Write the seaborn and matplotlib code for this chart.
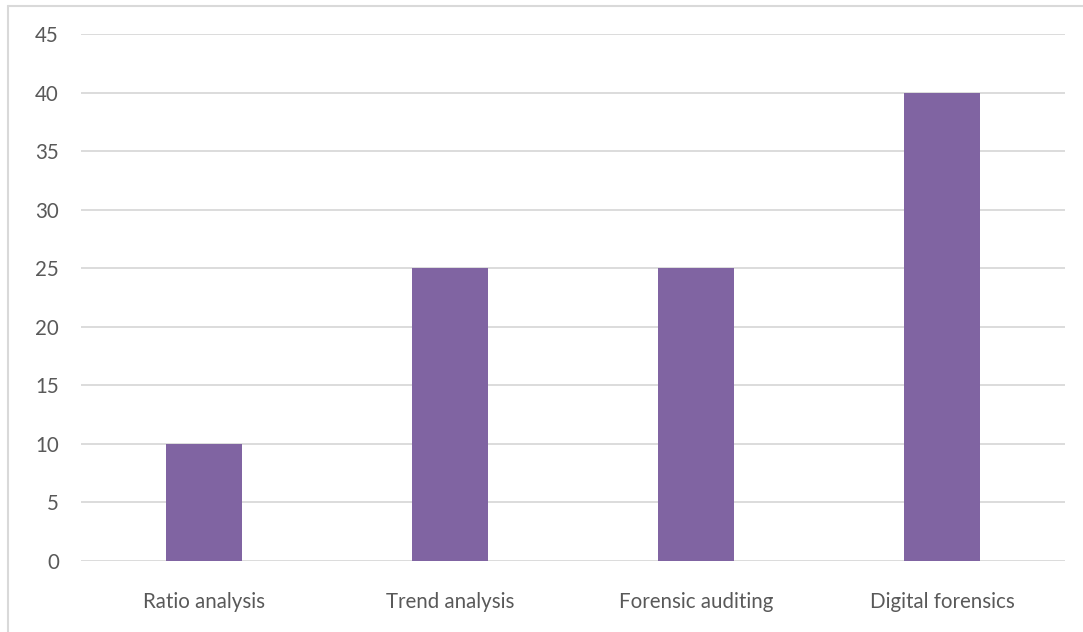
import matplotlib
matplotlib.use("Agg")
import matplotlib.pyplot as plt
import seaborn as sns
import pandas as pd
from matplotlib.lines import Line2D

categories = ["Ratio analysis", "Trend analysis", "Forensic auditing", "Digital forensics"]
values = [10, 25, 25, 40]
y_ticks = [0, 5, 10, 15, 20, 25, 30, 35, 40, 45]

df = pd.DataFrame({"category": categories, "value": values})

sns.set_style("white")
plt.rcParams["font.family"] = ["Lato", "DejaVu Sans"]

fig = plt.figure(figsize=(10.83, 6.32), dpi=100)
ax = fig.add_axes([81 / 1083, 1 - 561 / 632, (1065 - 81) / 1083, (561 - 34) / 632])

sns.barplot(data=df, x="category", y="value", color="#8064A2", saturation=1,
            width=0.313, linewidth=0, ax=ax, zorder=3)

ax.set_ylim(0, 45)
ax.set_yticks(y_ticks)
ax.set_xlim(-0.5, len(categories) - 0.5)
ax.yaxis.grid(True, color="#D9D9D9", linewidth=1.3, zorder=0)
ax.set_axisbelow(True)
for s in ax.spines.values():
    s.set_visible(False)
ax.tick_params(axis="both", length=0, labelsize=14.8, colors="#595959")
ax.tick_params(axis="x", pad=22)
ax.tick_params(axis="y", pad=16)
ax.set_xlabel("")
ax.set_ylabel("")

# chart frame (left and top edges visible in the crop)
fig.add_artist(Line2D([8 / 1083, 8 / 1083], [0, 1 - 6 / 632], transform=fig.transFigure,
                      color="#D9D9D9", linewidth=1.5))
fig.add_artist(Line2D([8 / 1083, 1], [1 - 6 / 632, 1 - 6 / 632], transform=fig.transFigure,
                      color="#D9D9D9", linewidth=1.5))

fig.savefig("out.png", dpi=100)
